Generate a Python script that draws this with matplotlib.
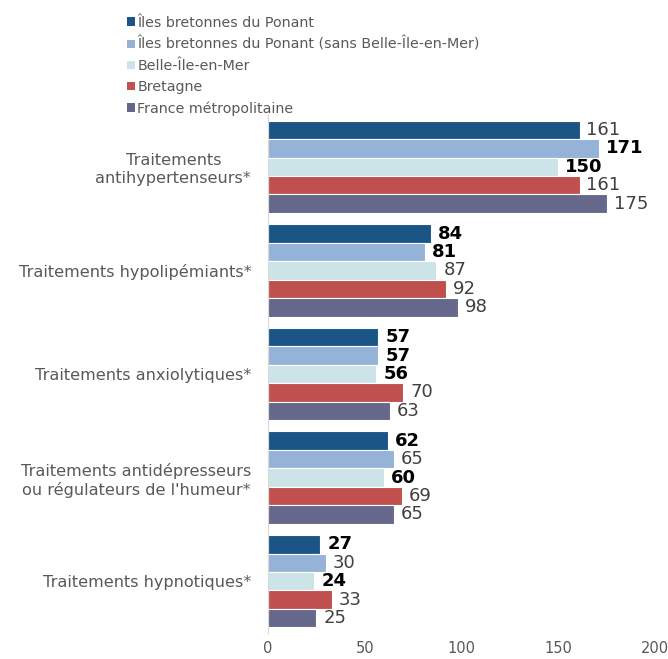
import matplotlib
matplotlib.use("Agg")
import matplotlib.pyplot as plt
from matplotlib.patches import Patch
import numpy as np

categories = ["Traitements\nantihypertenseurs*",
              "Traitements hypolipémiants*",
              "Traitements anxiolytiques*",
              "Traitements antidépresseurs\nou régulateurs de l'humeur*",
              "Traitements hypnotiques*"]
series_names = ["Îles bretonnes du Ponant",
                "Îles bretonnes du Ponant (sans Belle-Île-en-Mer)",
                "Belle-Île-en-Mer",
                "Bretagne",
                "France métropolitaine"]
ponant = [161, 84, 57, 62, 27]
ponant_sans_bim = [171, 81, 57, 65, 30]
belle_ile = [150, 87, 56, 60, 24]
bretagne = [161, 92, 70, 69, 33]
france = [175, 98, 63, 65, 25]
# significance flags (bold labels)
ponant_bold = [False, True, True, True, True]
ponant_sans_bold = [True, True, True, False, False]
belle_ile_bold = [True, False, True, True, True]
x_ticks = [0, 50, 100, 150, 200]

series = [ponant, ponant_sans_bim, belle_ile, bretagne, france]
bolds = [ponant_bold, ponant_sans_bold, belle_ile_bold, [False]*5, [False]*5]
colors = ["#1a5586", "#95b3d7", "#cce3e8", "#c0504d", "#65688a"]

fig = plt.figure(figsize=(6.68, 6.59), dpi=100)
ax = fig.add_axes([268/668, 1-633/659, (655-268)/668, (633-115)/659])

n = len(series)
bh = 0.178
y0 = np.arange(len(categories))
for j, (vals, col, bl) in enumerate(zip(series, colors, bolds)):
    ys = y0 - (n-1)/2*bh + j*bh
    ax.barh(ys, vals, height=bh, color=col, edgecolor="white", linewidth=0.8)
    for y, v, b in zip(ys, vals, bl):
        ax.annotate(str(v), (v, y), xytext=(5, 0), textcoords="offset points",
                    va="center", ha="left", fontsize=13,
                    fontweight="bold" if b else "normal",
                    color="black" if b else "#404040")

ax.set_ylim(4.5, -0.5)
ax.set_xlim(0, 200)
ax.set_xticks(x_ticks)
ax.set_yticks(y0)
ax.set_yticklabels(categories, fontsize=11.6, color="#595959", multialignment="center")
ax.tick_params(axis="y", length=0, pad=12)
ax.tick_params(axis="x", length=0, pad=6, labelsize=10.5, labelcolor="#595959")
for s in ["top", "right", "bottom"]:
    ax.spines[s].set_visible(False)
ax.spines["left"].set_color("#d9d9d9")

handles = [Patch(facecolor=c, edgecolor="none") for c in colors]
fig.legend(handles, series_names, loc="upper left", bbox_to_anchor=(121/668, 1-10/659),
           frameon=False, fontsize=10.3, labelcolor="#595959",
           handlelength=0.55, handleheight=0.55, handletextpad=0.2, labelspacing=0.5,
           borderaxespad=0)

fig.savefig("out.png", dpi=100)
